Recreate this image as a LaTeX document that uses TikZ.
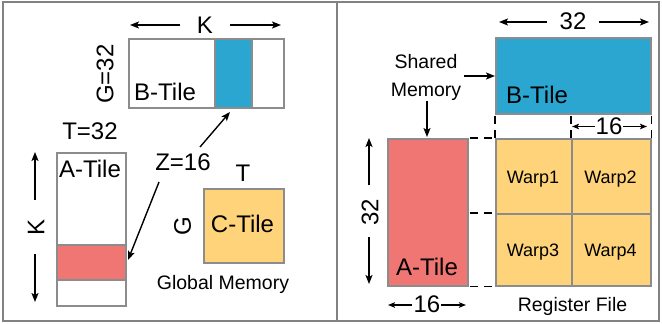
\documentclass[tikz,border=0pt]{standalone}
\usepackage{fontspec}
\setmainfont{Liberation Sans}
\usetikzlibrary{arrows.meta}
\definecolor{tblue}{RGB}{42,166,209}
\definecolor{tred}{RGB}{239,118,114}
\definecolor{torange}{RGB}{254,211,122}
\definecolor{tgray}{RGB}{140,140,140}
\definecolor{fgray}{RGB}{130,130,130}
\begin{document}
\begin{tikzpicture}[x=1pt,y=-1pt,
  big/.style={font=\fontsize{24}{28}\selectfont, inner sep=0pt},
  mid/.style={font=\fontsize{19.5}{24}\selectfont, inner sep=0pt},
  small/.style={font=\fontsize{18}{22}\selectfont, inner sep=0pt},
  tilebox/.style={draw=tgray, line width=1.5pt, inner sep=0pt, anchor=north west},
  arr/.style={-{Stealth[length=9pt,width=7pt,inset=2pt]}, line width=1.4pt},
  sarr/.style={-{Stealth[length=7pt,width=5.5pt,inset=1.5pt]}, line width=1.2pt},
  guide/.style={dash pattern=on 8pt off 6pt, line width=1.1pt},
]
\useasboundingbox (0,0) rectangle (662,324);
\draw[fgray, line width=2pt] (3,2) rectangle (659,321);
\draw[fgray, line width=2pt] (336.5,2) -- (336.5,321);

% ---------------- left panel: global memory ----------------
\node[tilebox, minimum width=155pt, minimum height=69pt] (bt) at (128,38) {};
\node[tilebox, fill=tblue, minimum width=37pt, minimum height=69pt] (bs) at (214,38) {};
\node[big, anchor=base west] (btl) at (134,100) {B-Tile};
\node[big] (Kh) at (205,25) {K};
\coordinate (khl0) at (180,25); \coordinate (khl) at (130,25);
\coordinate (khr0) at (230,25); \coordinate (khr) at (281,25);
\draw[arr] (khl0) -- (khl);
\draw[arr] (khr0) -- (khr);
\node[big, rotate=90] (g32) at (105,74) {G=32};
\node[big] (t32) at (90,131.5) {T=32};

\node[tilebox, minimum width=69pt, minimum height=153pt] (at) at (56,152) {};
\node[tilebox, fill=tred, minimum width=69pt, minimum height=35pt] (as) at (56,244) {};
\node[big, anchor=base] (atl) at (90,177) {A-Tile};
\node[big, rotate=90] (Kv) at (36,227) {K};
\coordinate (kvu0) at (35,200); \coordinate (kvu) at (35,152);
\coordinate (kvd0) at (35,254); \coordinate (kvd) at (35,302);
\draw[arr] (kvu0) -- (kvu);
\draw[arr] (kvd0) -- (kvd);

\node[big] (z16) at (183,162) {Z=16};
\coordinate (zu0) at (200,147); \coordinate (zu) at (230,112);
\coordinate (zd0) at (159,182); \coordinate (zd) at (128,260);
\draw[arr] (zu0) -- (zu);
\draw[arr] (zd0) -- (zd);

\node[tilebox, fill=torange, minimum width=80pt, minimum height=74pt] (ct) at (203,188) {};
\node[big] (ctl) at (242.5,224) {C-Tile};
\node[big] (tlab) at (243,173) {T};
\node[big, rotate=90] (glab) at (182.5,226.5) {G};
\node[mid, anchor=base] (gm) at (223,289) {Global Memory};

% ---------------- right panel: shared memory / registers ----------------
\node[tilebox, fill=tblue, minimum width=155pt, minimum height=76pt] (rbt) at (495,37) {};
\node[big, anchor=base west] (rbtl) at (506,103) {B-Tile};
\node[big] (r32) at (573,21) {32};
\coordinate (r32l0) at (547,22); \coordinate (r32l) at (499,22);
\coordinate (r32r0) at (599,22); \coordinate (r32r) at (649,22);
\draw[arr] (r32l0) -- (r32l);
\draw[arr] (r32r0) -- (r32r);

\node[mid, anchor=base] (sh) at (426,68) {Shared};
\node[mid, anchor=base] (me) at (426,96) {Memory};
\coordinate (sha0) at (464,76); \coordinate (sha) at (495,76);
\coordinate (shd0) at (427,101); \coordinate (shd) at (427,137);
\draw[arr] (sha0) -- (sha);
\draw[arr] (shd0) -- (shd);

\node[tilebox, fill=tred, minimum width=80pt, minimum height=147pt] (ra) at (387,138) {};
\node[big, anchor=base] (ral) at (427,275) {A-Tile};

\node[tilebox, fill=torange, minimum width=76pt, minimum height=75pt] (w1) at (495,138) {};
\node[tilebox, fill=torange, minimum width=79pt, minimum height=75pt] (w2) at (571,138) {};
\node[tilebox, fill=torange, minimum width=76pt, minimum height=72pt] (w3) at (495,213) {};
\node[tilebox, fill=torange, minimum width=79pt, minimum height=72pt] (w4) at (571,213) {};
\node[small, anchor=base] (w1l) at (533,183) {Warp1};
\node[small, anchor=base] (w2l) at (610.5,183) {Warp2};
\node[small, anchor=base] (w3l) at (533,256) {Warp3};
\node[small, anchor=base] (w4l) at (610.5,256) {Warp4};

\draw[guide] ([yshift=-1pt]rbt.south west) -- (w1.north west);
\draw[guide] ([yshift=-1pt]w2.north west |- rbt.south) -- (w2.north west);
\draw[guide] ([yshift=-1pt]rbt.south east) -- (w2.north east);
\draw[guide] ([xshift=1pt]ra.north east) -- (w1.north west);
\draw[guide] ([xshift=1pt]ra.east |- w3.north west) -- (w3.north west);
\draw[guide] ([xshift=1pt]ra.south east) -- (w3.south west);

\node[big] (r16t) at (609,126.5) {16};
\coordinate (r16tl0) at (595,126.5); \coordinate (r16tl) at (572,126.5);
\coordinate (r16tr0) at (623,126.5); \coordinate (r16tr) at (647,126.5);
\draw[sarr] (r16tl0) -- (r16tl);
\draw[sarr] (r16tr0) -- (r16tr);

\node[big, rotate=90] (r32v) at (370,212) {32};
\coordinate (r32u0) at (369,185); \coordinate (r32u) at (369,138);
\coordinate (r32d0) at (369,237); \coordinate (r32d) at (369,284);
\draw[arr] (r32u0) -- (r32u);
\draw[arr] (r32d0) -- (r32d);

\node[big] (r16b) at (427,304.5) {16};
\coordinate (r16bl0) at (412,305); \coordinate (r16bl) at (388,305);
\coordinate (r16br0) at (441,305); \coordinate (r16br) at (466,305);
\draw[sarr] (r16bl0) -- (r16bl);
\draw[sarr] (r16br0) -- (r16br);

\node[mid, anchor=base] (rf) at (572.5,311) {Register File};
\end{tikzpicture}
\end{document}
